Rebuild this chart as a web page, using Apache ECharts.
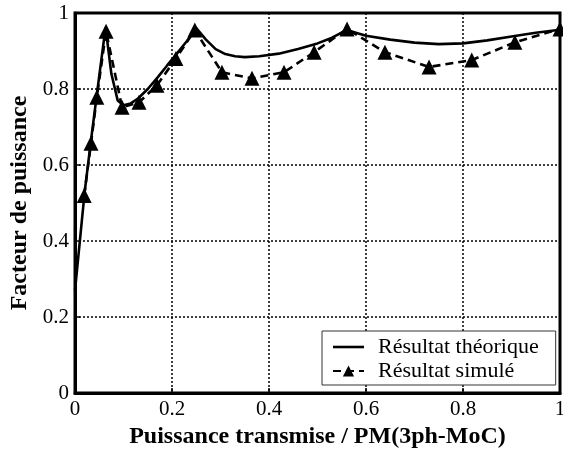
<!DOCTYPE html>
<html>
<head>
<meta charset="utf-8">
<script src="https://cdn.jsdelivr.net/npm/echarts@6/dist/echarts.min.js"></script>
<style>html,body{margin:0;padding:0;background:#fff}#c{width:563px;height:454px}</style>
</head>
<body>
<div id="c"></div>
<script>
const xTicks = [0, 0.2, 0.4, 0.6, 0.8, 1];
const yTicks = [0, 0.2, 0.4, 0.6, 0.8, 1];
const theoX = [0, 0.02, 0.033, 0.045, 0.063, 0.075, 0.088, 0.1, 0.115, 0.13, 0.15, 0.17, 0.19, 0.21, 0.23, 0.25, 0.27, 0.29, 0.31, 0.33, 0.35, 0.38, 0.42, 0.46, 0.5, 0.53, 0.56, 0.6, 0.65, 0.7, 0.75, 0.8, 0.85, 0.9, 0.95, 1.0];
const theoY = [0.27, 0.53, 0.665, 0.785, 0.962, 0.84, 0.77, 0.757, 0.762, 0.775, 0.8, 0.83, 0.862, 0.893, 0.925, 0.96, 0.93, 0.905, 0.892, 0.886, 0.884, 0.886, 0.893, 0.905, 0.92, 0.935, 0.955, 0.94, 0.93, 0.922, 0.918, 0.92, 0.928, 0.938, 0.948, 0.956];
const simX = [0.019, 0.033, 0.045, 0.064, 0.097, 0.132, 0.169, 0.208, 0.247, 0.303, 0.365, 0.431, 0.493, 0.561, 0.639, 0.73, 0.818, 0.907, 1.0];
const simY = [0.52, 0.657, 0.778, 0.952, 0.752, 0.765, 0.81, 0.88, 0.955, 0.844, 0.828, 0.844, 0.897, 0.958, 0.897, 0.858, 0.876, 0.923, 0.958];
const seriesNames = ['Résultat théorique', 'Résultat simulé'];

const font = 'Liberation Serif';
const chart = echarts.init(document.getElementById('c'), null, {renderer: 'canvas'});
chart.setOption({
  animation: false,
  grid: {left: 75, right: 3, top: 13, bottom: 61, outerBoundsMode: 'none', containLabel: false, show: true, borderColor: '#000', borderWidth: 3, backgroundColor: 'transparent'},
  xAxis: {
    type: 'value', min: xTicks[0], max: xTicks[xTicks.length - 1], interval: 0.2,
    name: 'Puissance transmise / PM(3ph-MoC)', nameLocation: 'middle', nameGap: 28,
    nameTextStyle: {fontFamily: font, fontWeight: 'bold', fontSize: 24, color: '#000'},
    axisLine: {show: true, lineStyle: {color: '#000', width: 3}},
    axisTick: {show: true, inside: true, length: 5, lineStyle: {color: '#000', width: 1.5}},
    axisLabel: {fontFamily: font, fontSize: 21, color: '#000', margin: 6},
    splitLine: {show: true, lineStyle: {color: '#000', type: [2, 2], width: 1.5}}
  },
  yAxis: {
    type: 'value', min: yTicks[0], max: yTicks[yTicks.length - 1], interval: 0.2,
    name: 'Facteur de puissance', nameLocation: 'middle', nameGap: 37,
    nameTextStyle: {fontFamily: font, fontWeight: 'bold', fontSize: 24, color: '#000'},
    axisLine: {show: true, lineStyle: {color: '#000', width: 3}},
    axisTick: {show: true, inside: true, length: 5, lineStyle: {color: '#000', width: 1.5}},
    axisLabel: {fontFamily: font, fontSize: 21, color: '#000', margin: 6},
    splitLine: {show: true, lineStyle: {color: '#000', type: [2, 2], width: 1.5}}
  },
  legend: {
    orient: 'vertical', left: 322, top: 331,
    backgroundColor: '#fff', borderColor: '#333', borderWidth: 1,
    padding: [5, 17, 3, 10], itemGap: 2, itemWidth: 31, itemHeight: 14,
    textStyle: {fontFamily: font, fontSize: 22, color: '#000', lineHeight: 22, padding: [0, 0, 0, 9]},
    data: [
      {name: seriesNames[0], icon: 'path://M0,0 L31,0 L31,2.6 L0,2.6 Z'},
      {name: seriesNames[1]}
    ]
  },
  series: [
    {
      name: seriesNames[0], type: 'line', showSymbol: false, symbol: 'none',
      data: theoX.map((x, i) => [x, theoY[i]]),
      lineStyle: {color: '#000', width: 2.6}, itemStyle: {color: '#000'}, z: 3
    },
    {
      name: seriesNames[1], type: 'line', symbol: 'triangle', symbolSize: 15,
      data: simX.map((x, i) => [x, simY[i]]),
      lineStyle: {color: '#000', width: 2.6, type: [8, 5]}, itemStyle: {color: '#000'}, z: 4
    }
  ]
});
</script>
</body>
</html>
